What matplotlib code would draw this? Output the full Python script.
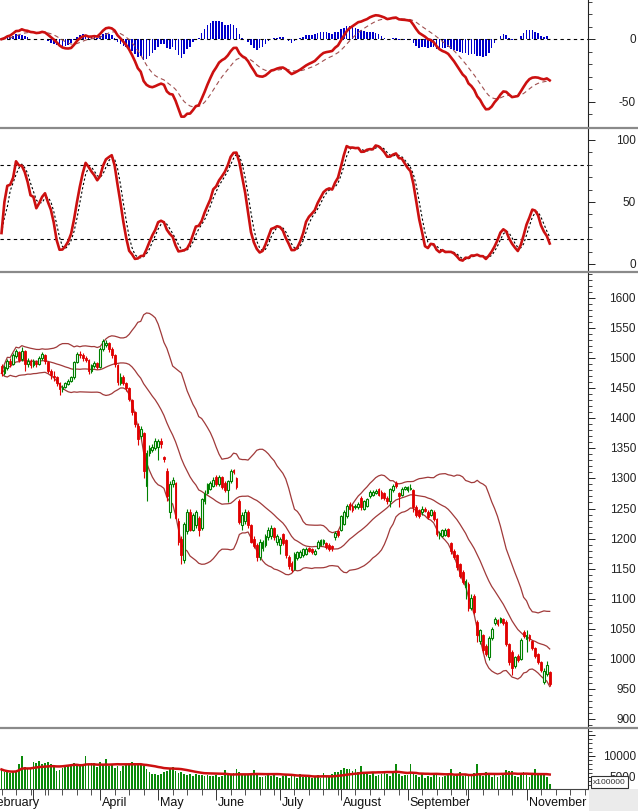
import numpy as np
import pandas as pd
import matplotlib
matplotlib.use("Agg")
import matplotlib.pyplot as plt
from matplotlib.lines import Line2D
from matplotlib.patches import Rectangle
from matplotlib.ticker import MultipleLocator, FixedLocator, NullFormatter
import matplotlib.transforms as mtransforms

# ---------------- DATA ----------------
opens = [1487,1475,1484,1496,1490,1503,1510,1498,1512,1490,1496,1488,1494,1490,1500,1505,1494,1478,1470,1468,
         1458,1448,1452,1457,1462,1468,1494,1507,1506,1500,1497,1478,1487,1492,1486,1515,1522,1525,1515,1505,
         1488,1458,1468,1458,1450,1430,1410,1388,1370,1375,1288,1343,1348,1350,1352,1362,1335,1312,1245,1290,
         1292,1230,1200,1165,1212,1245,1215,1222,1235,1218,1262,1276,1283,1288,1302,1290,1302,1292,1280,1295,
         1314,1300,1262,1222,1230,1245,1222,1200,1190,1170,1185,1190,1202,1205,1218,1195,1190,1208,1198,1170,
         1160,1150,1168,1170,1173,1175,1184,1183,1175,1185,1190,1192,1192,1190,1188,1202,1213,1215,1225,1238,
         1257,1255,1252,1253,1268,1250,1255,1270,1272,1276,1282,1277,1275,1268,1262,1280,1293,1275,1272,1282,
         1280,1283,1280,1253,1248,1245,1250,1245,1240,1245,1233,1206,1204,1206,1216,1192,1180,1172,1158,1145,
         1120,1125,1085,1105,1062,1030,1040,1022,1003,1035,1060,1064,1062,1066,1062,1025,1012,988,1005,1000,
         1045,1033,1040,1030,1018,1008,995,962,975,978]
highs = [1490,1488,1498,1500,1508,1516,1512,1518,1514,1500,1498,1498,1497,1503,1510,1507,1496,1482,1478,1470,
         1460,1456,1460,1465,1470,1496,1510,1512,1508,1503,1499,1490,1495,1494,1518,1532,1530,1527,1518,1507,
         1490,1475,1472,1460,1452,1432,1412,1392,1388,1378,1348,1356,1358,1368,1366,1368,1338,1318,1295,1302,
         1294,1235,1205,1228,1250,1250,1242,1248,1238,1268,1280,1292,1296,1302,1305,1306,1304,1295,1298,1316,
         1316,1302,1265,1245,1250,1248,1225,1204,1192,1200,1198,1208,1220,1222,1220,1208,1203,1210,1200,1172,
         1162,1178,1180,1181,1185,1186,1186,1185,1183,1197,1200,1200,1195,1192,1190,1212,1215,1240,1248,1258,
         1260,1257,1257,1260,1270,1264,1267,1280,1280,1282,1284,1280,1277,1270,1284,1290,1296,1277,1285,1288,
         1288,1290,1282,1256,1250,1255,1252,1247,1250,1247,1235,1212,1216,1218,1218,1195,1182,1174,1160,1148,
         1132,1128,1108,1108,1065,1050,1042,1025,1038,1053,1070,1066,1070,1068,1064,1027,1015,1005,1008,1035,
         1048,1048,1042,1032,1020,1010,997,984,996,980]
lows = [1470,1472,1480,1486,1488,1500,1494,1495,1478,1486,1484,1485,1485,1488,1497,1490,1475,1466,1462,1454,
        1438,1444,1450,1455,1460,1466,1492,1500,1496,1493,1474,1476,1484,1482,1484,1512,1518,1510,1500,1485,
        1455,1455,1455,1445,1428,1405,1385,1355,1366,1300,1263,1338,1344,1348,1330,1350,1328,1262,1235,1285,
        1232,1190,1157,1160,1208,1212,1212,1218,1205,1215,1258,1274,1280,1285,1288,1287,1282,1278,1260,1292,
        1308,1282,1225,1215,1225,1218,1192,1185,1162,1165,1180,1186,1198,1200,1198,1190,1175,1190,1168,1150,
        1145,1148,1165,1168,1170,1172,1177,1175,1172,1183,1188,1190,1183,1180,1180,1198,1203,1212,1222,1235,
        1247,1245,1249,1250,1248,1247,1252,1268,1270,1274,1270,1265,1264,1258,1252,1277,1284,1252,1270,1280,
        1278,1280,1245,1236,1234,1240,1244,1232,1238,1230,1204,1200,1202,1204,1203,1175,1166,1148,1135,1125,
        1100,1080,1082,1075,1028,1025,1010,1005,998,1032,1057,1055,1060,1057,1022,990,973,985,995,998,
        1035,1012,1030,1015,1002,992,978,958,972,955]
closes = [1475,1485,1495,1490,1505,1512,1497,1512,1490,1495,1488,1495,1490,1500,1507,1495,1478,1472,1468,1458,
          1448,1452,1458,1462,1468,1494,1507,1505,1500,1497,1478,1488,1492,1485,1515,1528,1526,1515,1505,1490,
          1460,1468,1458,1450,1432,1410,1390,1365,1382,1313,1343,1350,1352,1362,1362,1358,1332,1270,1290,1298,
          1235,1195,1172,1225,1245,1215,1240,1245,1215,1265,1275,1290,1293,1298,1290,1302,1285,1280,1295,1312,
          1310,1285,1228,1240,1245,1222,1195,1188,1170,1195,1195,1205,1215,1218,1202,1205,1200,1193,1172,1155,
          1148,1175,1177,1178,1182,1183,1180,1178,1180,1195,1198,1197,1186,1183,1184,1210,1206,1237,1245,1255,
          1250,1248,1255,1258,1252,1262,1265,1277,1277,1279,1272,1268,1267,1262,1282,1287,1287,1270,1282,1285,
          1285,1284,1252,1240,1238,1250,1246,1236,1247,1233,1208,1209,1214,1215,1205,1180,1170,1152,1138,1128,
          1130,1085,1102,1078,1040,1048,1015,1008,1035,1050,1066,1058,1068,1060,1025,995,985,1003,998,1032,
          1038,1040,1033,1018,1005,995,982,980,990,958]
volumes = [6800,6300,6100,6000,6200,6500,8200,9900,7400,6900,7200,8600,8400,8700,8200,8300,8600,8000,7500,6500,
           6700,7100,7600,7800,8000,8400,8200,7900,7800,10000,8100,8400,8300,7300,8600,7900,9200,7600,8000,7200,
           7500,6500,7600,7800,8000,8500,8000,8400,8000,7500,7000,6200,5700,5600,5400,5800,6200,6500,6900,7300,
           6400,6000,6300,5700,5400,5600,5300,5700,5500,5400,5200,5500,5300,5200,5400,5100,5300,6600,5800,5500,
           5900,6900,6200,5600,5500,5700,5900,6700,5800,4900,5000,5200,5500,5200,5600,5000,4800,5300,5400,4700,
           5200,5200,4800,5600,4900,5300,5100,4700,5000,5400,4800,5900,5200,5000,5600,6100,6300,6700,7100,7000,
           6800,6400,6900,6200,7700,5800,5600,5400,5900,5200,5500,5700,6000,5600,5300,6200,8000,5700,5200,5400,
           5500,8000,6100,5400,5000,5600,4800,5300,5100,5400,5700,5000,4900,5200,5500,7000,5200,5800,6200,5300,
           5600,5400,5800,6000,8000,5900,5200,6300,5400,5100,5600,4900,5300,5500,6600,6400,6500,5300,5000,5600,
           6200,5400,5000,5800,7000,5900,5600,5800,5100,3300]
# index of first session of each month (Feb ... Nov)
month_start = [-5, 11, 34, 54, 74, 96, 117, 140, 161, 181]
month_labels = ["February", "", "April", "May", "June", "July", "August", "September", "", "November"]

# ---------------- INDICATORS ----------------
o = np.array(opens, float); h = np.array(highs, float)
l = np.array(lows, float); c = np.array(closes, float)
v = np.array(volumes, float)
n = len(c)
x = np.arange(n)
cs = pd.Series(c)
ema12 = cs.ewm(span=12, adjust=False).mean()
ema26 = cs.ewm(span=26, adjust=False).mean()
macd = ema12 - ema26
signal = macd.ewm(span=9, adjust=False).mean()
hist = macd - signal
mid = cs.rolling(20, min_periods=1).mean()
sd = cs.rolling(20, min_periods=1).std(ddof=0)
upper = mid + 2 * sd
lower = mid - 2 * sd
ll = pd.Series(l).rolling(20, min_periods=1).min()
hh = pd.Series(h).rolling(20, min_periods=1).max()
fastk = 100 * (cs - ll) / (hh - ll)
slowk = fastk.rolling(5, min_periods=1).mean()
slowd = slowk.rolling(3, min_periods=1).mean()
vma = pd.Series(v).rolling(20, min_periods=1).mean()

# ---------------- FIGURE ----------------
W, H = 638, 812
plt.rcParams["font.family"] = ["Liberation Sans", "DejaVu Sans"]
fig = plt.figure(figsize=(W / 100, H / 100), dpi=100)
fig.patch.set_facecolor("white")

def frac(top, bottom):
    return [0, 1 - bottom / H, 588 / W, (bottom - top) / H]

ax_m = fig.add_axes(frac(0, 128))
ax_s = fig.add_axes(frac(130, 272))
ax_p = fig.add_axes(frac(274, 728))
ax_v = fig.add_axes(frac(730, 790))

xl = (-0.52, 202.2)
for ax in (ax_m, ax_s, ax_p, ax_v):
    ax.set_facecolor("white")
    for s in ("left", "top", "bottom"):
        ax.spines[s].set_visible(False)
    ax.spines["right"].set_color("#222222")
    ax.spines["right"].set_linewidth(0.8)
    ax.yaxis.tick_right()
    ax.yaxis.set_major_formatter(NullFormatter())
    ax.tick_params(axis="y", which="major", length=5, width=0.7, direction="out", colors="#222222")
    ax.tick_params(axis="y", which="minor", length=3, width=0.6, direction="out", colors="#222222")
    ax.set_xticks([])

def ylabels(ax, vals, texts=None):
    tr = mtransforms.blended_transform_factory(fig.transFigure, ax.transData)
    for i, val in enumerate(vals):
        t = texts[i] if texts else str(val)
        ax.text(636 / W, val, t, transform=tr, ha="right", va="center",
                fontsize=8.5, color="#222222", clip_on=False)

# MACD panel
ax_m.bar(x, hist, width=0.55, color="#0000cc", linewidth=0)
ax_m.axhline(0, color="black", lw=0.8, ls=(0, (3, 3)))
ax_m.plot(x, signal, color="#a05050", lw=0.8, ls=(0, (4, 3)))
ax_m.plot(x, macd, color="#cc1010", lw=1.9)
ax_m.set_ylim(-70, 32)
ax_m.yaxis.set_major_locator(FixedLocator([0, -50]))
ax_m.yaxis.set_minor_locator(MultipleLocator(10))
ylabels(ax_m, [0, -50])

# Stochastic panel
ax_s.axhline(80, color="black", lw=0.8, ls=(0, (3, 3)))
ax_s.axhline(20, color="black", lw=0.8, ls=(0, (3, 3)))
ax_s.plot(x, slowd, color="black", lw=0.8, ls=(0, (2, 2)))
ax_s.plot(x, slowk, color="#cc1010", lw=1.9)
ax_s.set_ylim(-5.6, 108.9)
ax_s.yaxis.set_major_locator(FixedLocator([0, 50, 100]))
ax_s.yaxis.set_minor_locator(MultipleLocator(10))
ylabels(ax_s, [0, 50, 100])

# Price panel
band_col = "#a03a3a"
ax_p.plot(x, upper, color=band_col, lw=0.9)
ax_p.plot(x, mid, color=band_col, lw=0.9)
ax_p.plot(x, lower, color=band_col, lw=0.9)
up = c >= o
dn = ~up
ax_p.vlines(x[up], l[up], h[up], colors="#008000", lw=0.8, zorder=3)
ax_p.vlines(x[dn], l[dn], h[dn], colors="#e00000", lw=0.8, zorder=3)
ax_p.bar(x[up], np.maximum(c[up] - o[up], 0.8), bottom=o[up], width=0.62,
         facecolor="white", edgecolor="#008000", linewidth=0.8, zorder=4)
ax_p.bar(x[dn], np.maximum(o[dn] - c[dn], 0.8), bottom=c[dn], width=0.62,
         facecolor="#e00000", edgecolor="#e00000", linewidth=0.6, zorder=4)
ax_p.set_ylim(886.7, 1641.6)
ax_p.yaxis.set_major_locator(MultipleLocator(50))
ax_p.yaxis.set_minor_locator(MultipleLocator(10))
ylabels(ax_p, list(range(900, 1601, 50)))

# Volume panel
ax_v.bar(x, v, width=0.6, color="#0a8a0a", linewidth=0)
ax_v.plot(x, vma, color="#cc1010", lw=1.8)
ax_v.set_ylim(2140, 16430)
ax_v.yaxis.set_major_locator(FixedLocator([5000, 10000, 15000]))
ax_v.yaxis.set_minor_locator(MultipleLocator(1000))
ylabels(ax_v, [5000, 10000])
ax_v.spines["bottom"].set_visible(True)
ax_v.spines["bottom"].set_color("#444444")
ax_v.spines["bottom"].set_linewidth(0.8)
ax_v.set_xticks(month_start)
ax_v.xaxis.set_major_formatter(NullFormatter())
ax_v.xaxis.set_minor_locator(FixedLocator([ms + k * 5 for ms in month_start for k in range(1, 5)]))
ax_v.tick_params(axis="x", which="major", length=8, width=0.7, direction="out", colors="#333333")
ax_v.tick_params(axis="x", which="minor", length=4, width=0.6, direction="out", colors="#333333")

for ax in (ax_m, ax_s, ax_p, ax_v):
    ax.set_xlim(*xl)

tr = mtransforms.blended_transform_factory(ax_v.transData, fig.transFigure)
off = mtransforms.ScaledTranslation(2 / 100, 0, fig.dpi_scale_trans)
for ms, lab in zip(month_start, month_labels):
    if lab:
        ax_v.text(ms, 1 - 803 / H, lab, transform=tr + off, ha="left", va="center",
                  fontsize=9, color="#111111", clip_on=False)

# separators
for yy in (129, 273, 729):
    fig.add_artist(Line2D([0, 1], [1 - yy / H, 1 - yy / H], transform=fig.transFigure,
                          color="#8a8a8a", lw=1.6))
# bottom-right gray block and multiplier box
fig.add_artist(Rectangle((589 / W, 0), (W - 589) / W, (812 - 790) / H, transform=fig.transFigure,
                         facecolor="#ebebeb", edgecolor="none"))
fig.add_artist(Rectangle((591 / W, 1 - 789 / H), 37 / W, 12 / H, transform=fig.transFigure,
                         facecolor="white", edgecolor="#333333", lw=0.8, zorder=10))
fig.text(609.5 / W, 1 - 783 / H, "x100000", fontsize=6, ha="center", va="center",
         color="#333333", zorder=11)

fig.savefig("out.png", dpi=100, facecolor="white")
